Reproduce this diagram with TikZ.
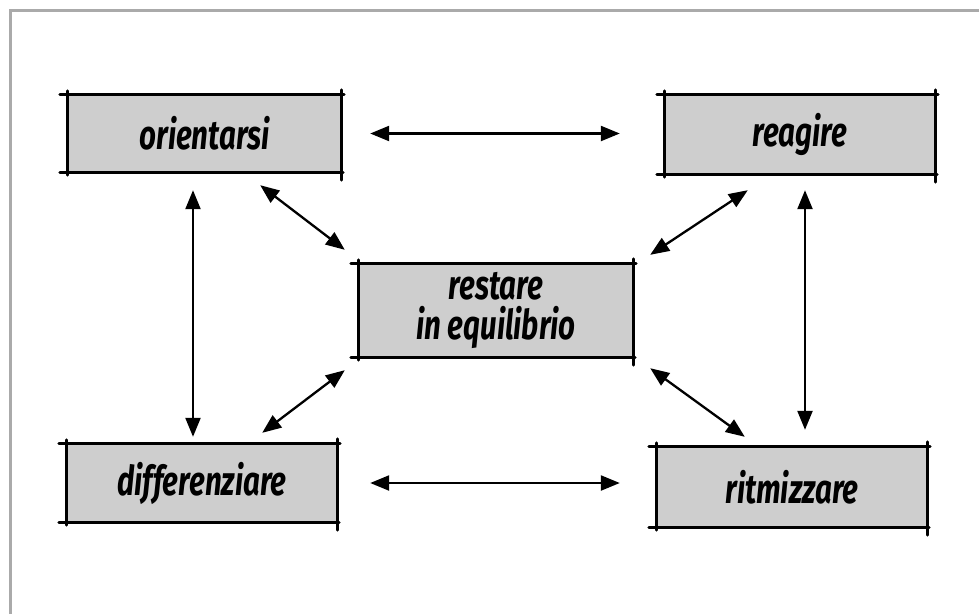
\documentclass[tikz,border=0pt]{standalone}
\usepackage{fontspec}
\newfontfamily\handfont{Fira Sans}[FakeStretch=0.72]
\usetikzlibrary{arrows.meta}
\definecolor{boxgray}{RGB}{206,206,206}
\definecolor{framegray}{RGB}{170,170,170}
\tikzset{
  box/.style={fill=boxgray, draw=none, inner sep=0pt, align=center,
    font=\handfont\bfseries\itshape\fontsize{41}{40}\selectfont},
  edge/.style={line width=3pt, line cap=round},
  arr/.style={line width=2.3pt, {Triangle[length=19pt,width=15pt]}-{Triangle[length=19pt,width=15pt]}},
}
\newcommand{\sketchframe}[1]{%
  \draw[edge] ([xshift=-8pt]#1.north west) -- ([xshift=3pt]#1.north east);
  \draw[edge] ([xshift=-8pt]#1.south west) -- ([xshift=2pt]#1.south east);
  \draw[edge] ([yshift=4pt]#1.north west) -- ([yshift=-3pt]#1.south west);
  \draw[edge] ([yshift=5pt]#1.north east) -- ([yshift=-8pt]#1.south east);
}
\begin{document}
\begin{tikzpicture}[x=1pt,y=-1pt]
\useasboundingbox (0,0) rectangle (979,614);
\draw[framegray, line width=3pt] (10,614) -- (10,10) -- (979,10);

\node[box, minimum width=273pt, minimum height=77pt] (O) at (204.5,133.5) {orientarsi};
\node[box, minimum width=270pt, minimum height=79pt] (R) at (800,134.5) {reagire};
\node[box, minimum width=274pt, minimum height=93pt] (C) at (496,310.5) {restare\\in equilibrio};
\node[box, minimum width=270pt, minimum height=78pt] (D) at (202,483) {differenziare};
\node[box, minimum width=270pt, minimum height=80pt] (T) at (792,487) {ritmizzare};

\foreach \n in {O,R,C,D,T} {\sketchframe{\n}}

% horizontal arrows
\draw[arr, shorten <=29pt, shorten >=45pt] (O.east) -- (R.west |- O.east);
\draw[arr, shorten <=33pt, shorten >=37pt] (D.east) -- (T.west |- D.east);
% vertical arrows
\draw[arr, shorten <=18pt, shorten >=7pt] ([xshift=-11.5pt]O.south) -- ([xshift=-9pt]D.north);
\draw[arr, shorten <=16pt, shorten >=17pt] ([xshift=5pt]R.south) -- ([xshift=13pt]T.north);
% diagonal arrows
\draw[arr] ([shift={(-81,13)}]O.south east) -- ([shift={(-14,-14)}]C.north west);
\draw[arr] ([shift={(-75,-11)}]D.north east) -- ([shift={(-14,13)}]C.south west);
\draw[arr] ([shift={(83,16)}]R.south west) -- ([shift={(17,-9)}]C.north east);
\draw[arr] ([shift={(17,11)}]C.south east) -- ([shift={(88,-10)}]T.north west);
\end{tikzpicture}
\end{document}
